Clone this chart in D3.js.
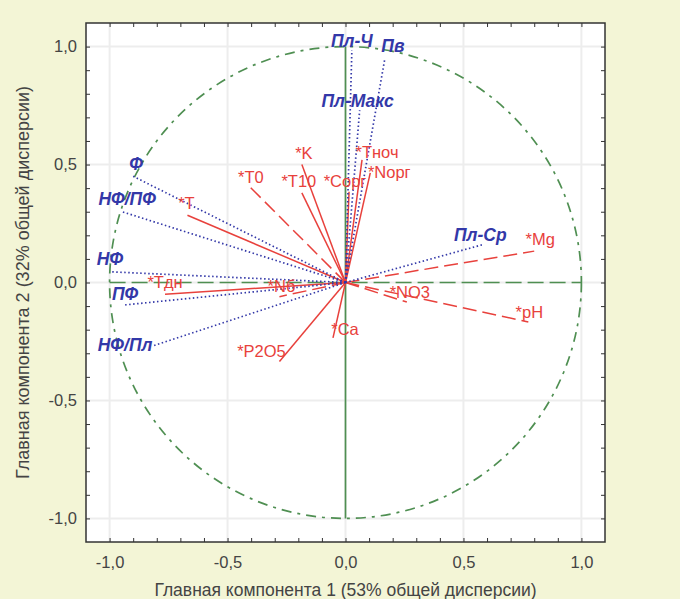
<!DOCTYPE html>
<html>
<head>
<meta charset="utf-8">
<script src="https://cdn.jsdelivr.net/npm/d3@7"></script>
<style>
  body { margin: 0; background: #f3f5d6; }
  svg { display: block; font-family: "Liberation Sans", Arial, sans-serif; }
</style>
</head>
<body>
<script>
// loadings

// active variables (blue, dotted)
var blueNames = ['Пл-Ч', 'Пв', 'Пл-Макс', 'Ф', 'НФ/ПФ', 'НФ', 'ПФ', 'НФ/Пл', 'Пл-Ср'];
var blueX = [0.027, 0.167, 0.06, -0.90, -0.947, -0.99, -0.934, -0.82, 0.58];
var blueY = [0.985, 0.95, 0.73, 0.45, 0.30, 0.045, -0.095, -0.27, 0.16];

// supplementary variables (red)
var redNames = ['*K', '*T0', '*T10', '*Сорг', '*Тноч', '*Nорг', '*T', '*Тдн', '*Nб', '*NO3', '*pH', '*Mg', '*Ca', '*P2O5'];
var redX = [-0.185, -0.405, -0.185, 0.015, 0.07, 0.105, -0.67, -0.765, -0.28, 0.26, 0.775, 0.80, -0.053, -0.28];
var redY = [0.50, 0.405, 0.38, 0.385, 0.52, 0.465, 0.285, -0.05, -0.06, -0.083, -0.167, 0.133, -0.235, -0.335];

var tickValues = [-1, -0.5, 0, 0.5, 1];
var xTitle = 'Главная компонента 1 (53% общей дисперсии)';
var yTitle = 'Главная компонента 2 (32% общей дисперсии)';

var width = 680;
var height = 599;
var pLeft = 86, pRight = 605, pTop = 23, pBottom = 542;

var green = '#4f8f52';
var red = '#e8413c';
var blue = '#3338a8';

var svg = d3.select('body').append('svg')
  .attr('width', width)
  .attr('height', height);

var x = d3.scaleLinear().domain([-1.1, 1.1]).range([pLeft, pRight]);
var y = d3.scaleLinear().domain([-1.1, 1.1]).range([pBottom, pTop]);

// plot area
svg.append('rect')
  .attr('x', pLeft).attr('y', pTop)
  .attr('width', pRight - pLeft).attr('height', pBottom - pTop)
  .attr('fill', '#ffffff');

// grid
svg.append('g').selectAll('line').data(tickValues).enter().append('line')
  .attr('x1', function(d){ return x(d); }).attr('x2', function(d){ return x(d); })
  .attr('y1', pTop).attr('y2', pBottom)
  .attr('stroke', '#ededed').attr('stroke-width', 2);
svg.append('g').selectAll('line').data(tickValues).enter().append('line')
  .attr('y1', function(d){ return y(d); }).attr('y2', function(d){ return y(d); })
  .attr('x1', pLeft).attr('x2', pRight)
  .attr('stroke', '#ededed').attr('stroke-width', 2);

// axes with inside minor ticks every 0.1
var minor = d3.range(-10, 11).map(function(i){ return i / 10; });
var fmt = function(d){ return d3.format('.1f')(d).replace('.', ',').replace('−', '-'); };

var xAxis = svg.append('g').attr('transform', 'translate(0,' + pBottom + ')')
  .call(d3.axisBottom(x).tickValues(tickValues).tickFormat(fmt).tickSize(0).tickPadding(14));
var yAxis = svg.append('g').attr('transform', 'translate(' + pLeft + ',0)')
  .call(d3.axisLeft(y).tickValues(tickValues).tickFormat(fmt).tickSize(0).tickPadding(9));
[xAxis, yAxis].forEach(function(a){
  a.select('.domain').remove();
  a.selectAll('text').attr('font-size', 16.5).attr('fill', '#444')
    .style('font-family', '"Liberation Sans", Arial, sans-serif');
});

function minorTicks(g){
  g.select('.domain').remove();
  g.selectAll('line').attr('stroke', '#333');
}
svg.append('g').attr('transform', 'translate(0,' + pBottom + ')')
  .call(d3.axisTop(x).tickValues(minor).tickFormat('').tickSizeInner(4).tickSizeOuter(0))
  .call(minorTicks);
svg.append('g').attr('transform', 'translate(0,' + pTop + ')')
  .call(d3.axisBottom(x).tickValues(minor).tickFormat('').tickSizeInner(4).tickSizeOuter(0))
  .call(minorTicks);
svg.append('g').attr('transform', 'translate(' + pLeft + ',0)')
  .call(d3.axisRight(y).tickValues(minor).tickFormat('').tickSizeInner(4).tickSizeOuter(0))
  .call(minorTicks);
svg.append('g').attr('transform', 'translate(' + pRight + ',0)')
  .call(d3.axisLeft(y).tickValues(minor).tickFormat('').tickSizeInner(4).tickSizeOuter(0))
  .call(minorTicks);

// frame
svg.append('rect')
  .attr('x', pLeft).attr('y', pTop)
  .attr('width', pRight - pLeft).attr('height', pBottom - pTop)
  .attr('fill', 'none').attr('stroke', '#333').attr('stroke-width', 1.5);

// axis titles
svg.append('text')
  .attr('x', x(0)).attr('y', 596)
  .attr('text-anchor', 'middle').attr('font-size', 17.5).attr('fill', '#444')
  .text(xTitle);
svg.append('text')
  .attr('transform', 'translate(29,' + y(0) + ') rotate(-90)')
  .attr('text-anchor', 'middle').attr('font-size', 18).attr('fill', '#444')
  .text(yTitle);

// unit circle and zero lines
svg.append('circle')
  .attr('cx', x(0)).attr('cy', y(0)).attr('r', x(1) - x(0))
  .attr('fill', 'none').attr('stroke', green).attr('stroke-width', 1.7)
  .attr('stroke-dasharray', '10,6,3,6');
svg.append('line')
  .attr('x1', x(-1)).attr('x2', x(1)).attr('y1', y(0)).attr('y2', y(0))
  .attr('stroke', green).attr('stroke-width', 1.7).attr('stroke-dasharray', '16,6');
svg.append('line')
  .attr('x1', x(0)).attr('x2', x(0)).attr('y1', y(-1)).attr('y2', y(1))
  .attr('stroke', green).attr('stroke-width', 1.7);

// red vectors
var dashed = {'*T0': 1, '*Nб': 1, '*NO3': 1, '*pH': 1, '*Mg': 1};
var redLabelOff = {
  '*K': [2, -6], '*T0': [1, -4], '*T10': [-3, -6], '*Сорг': [-4, -5], '*Тноч': [15, -2],
  '*Nорг': [19, 5], '*T': [-1, -6], '*Тдн': [0, -6], '*Nб': [2, -5], '*NO3': [3, -4],
  '*pH': [1, -4], '*Mg': [6, -6], '*Ca': [12, -3], '*P2O5': [-18, -5]
};
var redData = redNames.map(function(n, i){ return {name: n, x: redX[i], y: redY[i]}; });

svg.append('g').selectAll('line').data(redData).enter().append('line')
  .attr('x1', x(0)).attr('y1', y(0))
  .attr('x2', function(d){ return x(d.x); })
  .attr('y2', function(d){ return y(d.y); })
  .attr('stroke', red).attr('stroke-width', 1.5)
  .attr('stroke-dasharray', function(d){ return dashed[d.name] ? '14,6' : null; });

// blue vectors
var blueLabelOff = {
  'Пл-Ч': [0, -3], 'Пв': [8, -6], 'Пл-Макс': [-2, -3], 'Ф': [3, -6], 'НФ/ПФ': [5, -7],
  'НФ': [-2, -7], 'ПФ': [0, -5], 'НФ/Пл': [-27, 5], 'Пл-Ср': [-2, -4]
};
var blueData = blueNames.map(function(n, i){ return {name: n, x: blueX[i], y: blueY[i]}; });

svg.append('g').selectAll('line').data(blueData).enter().append('line')
  .attr('x1', x(0)).attr('y1', y(0))
  .attr('x2', function(d){ return x(d.x); })
  .attr('y2', function(d){ return y(d.y); })
  .attr('stroke', blue).attr('stroke-width', 1.7)
  .attr('stroke-dasharray', '1.5,2.5');

// labels
svg.append('g').selectAll('text').data(redData).enter().append('text')
  .attr('x', function(d){ return x(d.x) + redLabelOff[d.name][0]; })
  .attr('y', function(d){ return y(d.y) + redLabelOff[d.name][1]; })
  .attr('text-anchor', 'middle').attr('font-size', 16.5).attr('fill', red)
  .text(function(d){ return d.name; });

svg.append('g').selectAll('text').data(blueData).enter().append('text')
  .attr('x', function(d){ return x(d.x) + blueLabelOff[d.name][0]; })
  .attr('y', function(d){ return y(d.y) + blueLabelOff[d.name][1]; })
  .attr('text-anchor', 'middle').attr('font-size', 17.5)
  .attr('font-weight', 'bold').attr('font-style', 'italic').attr('fill', blue)
  .text(function(d){ return d.name; });
</script>
</body>
</html>
